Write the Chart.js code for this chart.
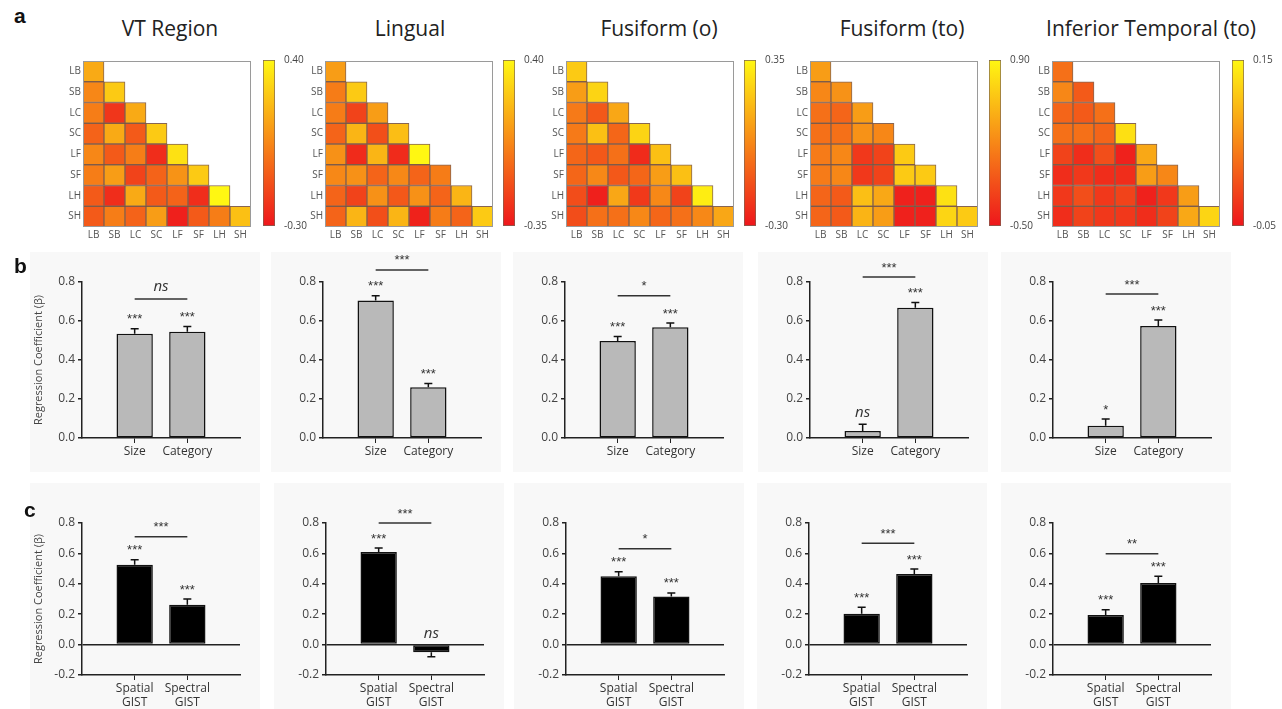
<!DOCTYPE html>
<html>
<head>
<meta charset="utf-8">
<script src="https://cdn.jsdelivr.net/npm/chart.js@4.4.1/dist/chart.umd.min.js"></script>
<style>
  body { margin: 0; background: #fff; width: 1282px; height: 709px; position: relative; overflow: hidden; font-family: "Open Sans", Arial, sans-serif; }
  .title { position: absolute; top: 14px; width: 260px; text-align: center; font-size: 21px; color: #222; }
  .panel { position: absolute; z-index: 5; font: bold 21px "Liberation Sans", Arial, sans-serif; color: #111; }
</style>
</head>
<body>
<div class="panel" style="left:14px;top:4px">a</div>
<div class="panel" style="left:14px;top:254px">b</div>
<div class="panel" style="left:24px;top:498px">c</div>

<script>
// region names + RDM condition labels
const regions = ['VT Region', 'Lingual', 'Fusiform (o)', 'Fusiform (to)', 'Inferior Temporal (to)'];
const conds = ['LB', 'SB', 'LC', 'SC', 'LF', 'SF', 'LH', 'SH'];

// colorbar limits of each RDM
const cbMin = [-0.30, -0.35, -0.30, -0.50, -0.05];
const cbMax = [0.40, 0.40, 0.35, 0.90, 0.15];

// lower triangle of each matrix, row by row (LB..SH)
const rdmVT = [
  [0.16],
  [0.05, 0.26],
  [0.02, -0.20, 0.16],
  [-0.06, 0.16, -0.09, 0.26],
  [0.05, -0.09, 0.02, -0.23, 0.33],
  [0.02, 0.12, -0.16, -0.06, 0.09, 0.26],
  [-0.09, -0.23, 0.16, -0.09, -0.06, -0.23, 0.40],
  [-0.09, 0.02, -0.06, 0.12, -0.27, -0.09, 0.02, 0.23]
];
const rdmLingual = [
  [0.10],
  [-0.01, 0.25],
  [-0.01, -0.20, 0.10],
  [-0.09, 0.18, -0.16, 0.21],
  [0.06, -0.28, 0.18, -0.28, 0.40],
  [0.03, 0.06, -0.09, 0.03, -0.09, -0.01],
  [-0.09, -0.20, 0.06, -0.13, 0.06, -0.09, 0.18],
  [-0.09, 0.18, -0.16, 0.18, -0.31, -0.01, -0.09, 0.25]
];
const rdmFusO = [
  [0.22],
  [0.09, 0.25],
  [-0.01, -0.11, 0.12],
  [-0.01, 0.19, -0.07, 0.25],
  [-0.07, -0.11, -0.04, -0.24, 0.19],
  [-0.07, 0.03, -0.11, -0.07, 0.09, 0.19],
  [-0.14, -0.27, 0.12, -0.20, 0.03, -0.17, 0.32],
  [-0.14, -0.04, -0.04, 0.03, -0.07, -0.04, 0.03, 0.12]
];
const rdmFusTO = [
  [0.34],
  [0.20, 0.27],
  [0.06, -0.01, 0.34],
  [0.06, 0.06, 0.27, 0.20],
  [0.13, 0.20, -0.29, -0.22, 0.62],
  [0.13, 0.20, -0.29, -0.22, 0.62, 0.62],
  [-0.01, -0.08, 0.55, 0.41, -0.43, -0.43, 0.76],
  [-0.01, -0.08, 0.48, 0.34, -0.43, -0.43, 0.69, 0.62]
];
const rdmIT = [
  [0.030],
  [0.050, 0.010],
  [0.020, 0.010, 0.030],
  [0.030, 0.030, 0.020, 0.130],
  [-0.010, -0.030, 0.000, -0.040, 0.080],
  [-0.030, -0.020, -0.030, -0.030, 0.070, 0.050],
  [-0.020, 0.000, -0.020, -0.010, -0.040, -0.020, 0.070],
  [-0.030, -0.010, -0.020, -0.020, -0.030, -0.010, 0.080, 0.120]
];
const rdms = [rdmVT, rdmLingual, rdmFusO, rdmFusTO, rdmIT];

// panel b: size vs category regression
const sizeCatLabels = ['Size', 'Category'];
const sizeCatBeta = [[0.535, 0.545], [0.705, 0.26], [0.497, 0.568], [0.036, 0.668], [0.063, 0.574]];
const sizeCatErr = [[0.025, 0.027], [0.025, 0.02], [0.023, 0.022], [0.034, 0.027], [0.034, 0.031]];
const sizeCatStars = [['***', '***'], ['***', '***'], ['***', '***'], ['ns', '***'], ['*', '***']];
const sizeCatDiff = ['ns', '***', '*', '***', '***'];
const sizeCatDiffAt = [0.713, 0.862, 0.73, 0.826, 0.738];

// panel c: spatial vs spectral GIST
const gistLabels = [['Spatial', 'GIST'], ['Spectral', 'GIST']];
const gistBeta = [[0.525, 0.262], [0.61, -0.05], [0.45, 0.316], [0.203, 0.465], [0.195, 0.405]];
const gistErr = [[0.033, 0.038], [0.026, 0.03], [0.03, 0.024], [0.042, 0.032], [0.035, 0.045]];
const gistStars = [['***', '***'], ['***', 'ns'], ['***', '***'], ['***', '***'], ['***', '***']];
const gistDiff = ['***', '***', '*', '***', '**'];
const gistDiffAt = [0.71, 0.80, 0.63, 0.667, 0.597];

// ---------- layout ----------
const titleCenter = [170, 410, 659, 902, 1151];
const heatLeft = [83, 325, 566, 810, 1052];
const cbarLeft = [263, 503, 744, 989, 1232];
const rowBAxis = [82, 323, 565, 810, 1053];
const rowCAxis = [82, 326, 566, 809, 1053];

Chart.defaults.font.family = '"Open Sans", Arial, sans-serif';
Chart.defaults.animation = false;

function place(left, top, w, h, bg) {
    const c = document.createElement('canvas');
    c.width = w; c.height = h;
    c.style.cssText = `position:absolute;left:${left}px;top:${top}px;width:${w}px;height:${h}px;` + (bg ? `background:${bg};` : '');
    document.body.appendChild(c);
    return c;
}

// red -> orange -> yellow (autumn-like)
function heatColor(v, lo, hi) {
    const t = Math.max(0, Math.min(1, (v - lo) / (hi - lo)));
    return `rgb(${Math.round(238 + 17 * t)}, ${Math.round(22 + 225 * t)}, ${Math.round(28 - 10 * t)})`;
}

// grey frame around the matrix
const frame = {
    id: 'frame',
    afterDraw(chart) {
        const a = chart.chartArea, ctx = chart.ctx;
        ctx.save();
        ctx.strokeStyle = '#9a9a9a';
        ctx.lineWidth = 1;
        ctx.strokeRect(a.left + 0.5, a.top + 0.5, a.right - a.left - 1, a.bottom - a.top - 1);
        ctx.restore();
    }
};

regions.forEach((name, r) => {
    const t = document.createElement('div');
    t.className = 'title';
    t.textContent = name;
    t.style.left = (titleCenter[r] - 130) + 'px';
    document.body.appendChild(t);

    const lo = cbMin[r], hi = cbMax[r], m = rdms[r];

    // each matrix row is one stacked dataset, bottom row first
    const datasets = [];
    for (let i = conds.length - 1; i >= 0; i--) {
        datasets.push({
            data: conds.map((c, j) => j <= i ? 1 : null),
            backgroundColor: conds.map((c, j) => j <= i ? heatColor(m[i][j], lo, hi) : 'rgba(0,0,0,0)'),
            borderColor: 'rgba(95,50,25,0.75)',
            borderWidth: 1,
            borderSkipped: false,
            barPercentage: 1,
            categoryPercentage: 1
        });
    }

    const cv = place(heatLeft[r] - 28, 53, 28 + 168 + 10, 6 + 168 + 20);
    new Chart(cv, {
        type: 'bar',
        data: { labels: conds, datasets: datasets },
        options: {
            responsive: false,
            layout: { padding: { top: 6, right: 10, bottom: 0, left: 0 } },
            plugins: { legend: { display: false }, tooltip: { enabled: false } },
            scales: {
                x: {
                    stacked: true,
                    grid: { display: false, drawTicks: false },
                    border: { display: false },
                    ticks: { font: { size: 10 }, color: '#555', padding: 2, maxRotation: 0, autoSkip: false },
                    afterFit: s => { s.height = 20; }
                },
                y: {
                    stacked: true, min: 0, max: 8,
                    grid: { display: false, drawTicks: false },
                    border: { display: false },
                    afterBuildTicks: s => { s.ticks = conds.map((c, k) => ({ value: 7.5 - k })); },
                    ticks: { font: { size: 10 }, color: '#555', padding: 2, autoSkip: false,
                        callback: v => conds[Math.round(7.5 - v)] },
                    afterFit: s => { s.width = 28; }
                }
            }
        },
        plugins: [frame]
    });

    // colorbar
    const cb = place(cbarLeft[r], 53, 12 + 32, 180);
    new Chart(cb, {
        type: 'bar',
        data: {
            labels: [''],
            datasets: [{
                data: [[lo, hi]],
                backgroundColor: ctx => {
                    const a = ctx.chart.chartArea;
                    if (!a) return '#f90';
                    const g = ctx.chart.ctx.createLinearGradient(0, a.bottom, 0, a.top);
                    [0, 0.25, 0.5, 0.75, 1].forEach(s => g.addColorStop(s, heatColor(lo + s * (hi - lo), lo, hi)));
                    return g;
                },
                borderColor: 'rgba(90,60,40,0.8)',
                borderWidth: 1,
                borderSkipped: false,
                barPercentage: 1,
                categoryPercentage: 1
            }]
        },
        options: {
            responsive: false,
            layout: { padding: { top: 6, bottom: 6, left: 0, right: 0 } },
            plugins: { legend: { display: false }, tooltip: { enabled: false } },
            scales: {
                x: { display: false },
                y: {
                    position: 'right', min: lo, max: hi,
                    grid: { display: false },
                    border: { display: false },
                    afterBuildTicks: s => { s.ticks = [{ value: lo }, { value: hi }]; },
                    ticks: { font: { size: 10 }, color: '#444', padding: 1, callback: v => v.toFixed(2) },
                    afterFit: s => { s.width = 32; }
                }
            }
        }
    });
});

// error bars, significance stars and comparison bracket
const marks = {
    id: 'marks',
    afterDatasetsDraw(chart, args, o) {
        const ctx = chart.ctx, xs = chart.scales.x, ys = chart.scales.y;
        ctx.save();
        ctx.strokeStyle = '#111';
        ctx.fillStyle = '#333';
        ctx.lineWidth = 1.5;
        ctx.textAlign = 'center';
        ctx.textBaseline = 'middle';
        const xc = [];
        o.beta.forEach((b, i) => {
            const x = xs.getPixelForValue(i + 1);
            xc.push(x);
            const end = b >= 0 ? b + o.err[i] : b - o.err[i];
            const y0 = ys.getPixelForValue(b), y1 = ys.getPixelForValue(end);
            ctx.beginPath();
            ctx.moveTo(x, y0); ctx.lineTo(x, y1);
            ctx.moveTo(x - 4, y1); ctx.lineTo(x + 4, y1);
            ctx.stroke();
            const ly = b >= 0 ? y1 - 11 : ys.getPixelForValue(0) - 10;
            drawSig(ctx, o.stars[i], x, ly);
        });
        const by = ys.getPixelForValue(o.diffAt);
        ctx.strokeStyle = '#333';
        ctx.beginPath();
        ctx.moveTo(xc[0], by); ctx.lineTo(xc[1], by);
        ctx.stroke();
        drawSig(ctx, o.diff, (xc[0] + xc[1]) / 2, by - 11);
        ctx.restore();
    }
};

function drawSig(ctx, s, x, y) {
    if (s === 'ns') {
        ctx.font = 'italic 15px "Open Sans", Arial, sans-serif';
        ctx.fillText(s, x, y - 1);
    } else {
        ctx.font = '13px "Liberation Sans", Arial, sans-serif';
        ctx.fillText(s, x, y + 2);
    }
}

function makeBars(left, top, padTop, plotH, labels, beta, err, stars, diff, diffAt, fill, yMin, showTitle) {
    const cv = place(left - 52, top, 52 + 158 + 20, padTop + plotH + 34, '#f8f8f8');
    new Chart(cv, {
        type: 'bar',
        data: {
            labels: ['', ...labels, ''],
            datasets: [{
                data: [null, ...beta, null],
                backgroundColor: fill,
                borderColor: '#111',
                borderWidth: 1.5,
                borderSkipped: false,
                barPercentage: 0.69,
                categoryPercentage: 1
            }]
        },
        options: {
            responsive: false,
            layout: { padding: { top: padTop, right: 20, bottom: 0, left: 0 } },
            plugins: {
                legend: { display: false }, tooltip: { enabled: false },
                marks: { beta: beta, err: err, stars: stars, diff: diff, diffAt: diffAt }
            },
            scales: {
                x: {
                    offset: false,
                    grid: { offset: false, drawOnChartArea: false, tickLength: 5,
                        tickColor: c => (c.index === 0 || c.index === labels.length + 1) ? 'rgba(0,0,0,0)' : '#222' },
                    border: { color: '#222', width: 1.5 },
                    ticks: { font: { size: 12 }, color: '#333', padding: 1, autoSkip: false, maxRotation: 0 },
                    afterFit: s => { s.height = 34; }
                },
                y: {
                    min: yMin, max: 0.8,
                    grid: {
                        color: c => (yMin < 0 && Math.abs(c.tick.value) < 1e-9) ? '#222' : 'rgba(0,0,0,0)',
                        lineWidth: 1.5, tickColor: '#222', tickLength: 4
                    },
                    border: { color: '#222', width: 1.5 },
                    ticks: { stepSize: 0.2, font: { size: 12 }, color: '#444', padding: 3,
                        callback: v => (Math.abs(v) < 1e-9 ? 0 : v).toFixed(1) },
                    title: { display: showTitle, text: 'Regression Coefficient (β)', font: { size: 11 }, color: '#444', padding: { top: 2, bottom: 2 } },
                    afterFit: s => { s.width = 52; }
                }
            }
        },
        plugins: [marks]
    });
}

regions.forEach((name, r) => {
    makeBars(rowBAxis[r], 252, 30, 156, sizeCatLabels, sizeCatBeta[r], sizeCatErr[r], sizeCatStars[r],
        sizeCatDiff[r], sizeCatDiffAt[r], '#b9b9b9', 0, r === 0);
    makeBars(rowCAxis[r], 483, 40, 152, gistLabels, gistBeta[r], gistErr[r], gistStars[r],
        gistDiff[r], gistDiffAt[r], '#000', -0.2, r === 0);
});
</script>
</body>
</html>
